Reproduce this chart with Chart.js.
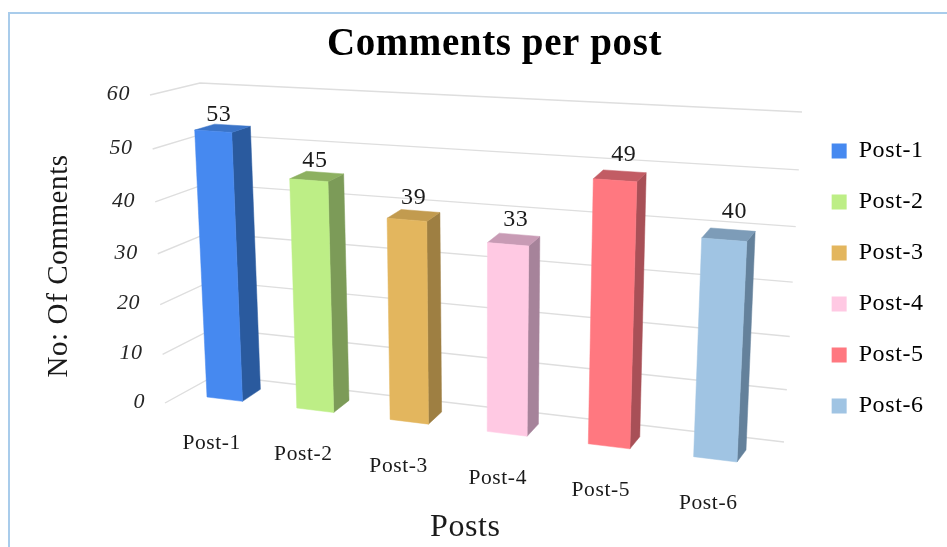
<!DOCTYPE html>
<html>
<head>
<meta charset="utf-8">
<style>html,body{margin:0;padding:0;background:#fff}canvas{display:block;filter:blur(0.4px)}</style>
<script src="https://cdn.jsdelivr.net/npm/chart.js@4"></script>
</head>
<body>
<canvas id="c" width="947" height="547"></canvas>
<script>
const categories = ['Post-1','Post-2','Post-3','Post-4','Post-5','Post-6'];
// Numbers printed above the bars in the reference
const printedValues = [53,45,39,33,49,40];
// Heights the bars reach in the reference (Post-4 stands taller than its printed 33)
const barLevels = [53,45,39,36,49,40];
const faceColors = ['#4689F0','#BDEE86','#E3B65E','#FFC9E3','#FF7880','#A0C4E3'];
const sideColors = ['#2A5A9E','#7C9B58','#9E7F42','#A6839A','#A85057','#64819B'];
const topColors = ['#3B74C8','#8DB060','#C29B4F','#C89BB5','#C25C64','#7D9CB8'];
const SERIF = '"Liberation Serif", serif';

function homography(src, dst){
  const A=[];
  for(let i=0;i<4;i++){
    const [x,y]=src[i],[X,Y]=dst[i];
    A.push([x,y,1,0,0,0,-x*X,-y*X,X]);
    A.push([0,0,0,x,y,1,-x*Y,-y*Y,Y]);
  }
  for(let c=0;c<8;c++){
    let p=c;
    for(let r=c+1;r<8;r++) if(Math.abs(A[r][c])>Math.abs(A[p][c])) p=r;
    [A[c],A[p]]=[A[p],A[c]];
    for(let r=0;r<8;r++){
      if(r===c) continue;
      const f=A[r][c]/A[c][c];
      for(let k=c;k<9;k++) A[r][k]-=f*A[c][k];
    }
  }
  const h=A.map((row,i)=>row[8]/row[i]);
  return (x,y)=>{
    const w=h[6]*x+h[7]*y+1;
    return [(h[0]*x+h[1]*y+h[2])/w,(h[3]*x+h[4]*y+h[5])/w];
  };
}
function poly(ctx,pts,fill){
  ctx.beginPath();
  pts.forEach((p,i)=>i?ctx.lineTo(p[0],p[1]):ctx.moveTo(p[0],p[1]));
  ctx.closePath();
  ctx.fillStyle=fill;
  ctx.fill();
  ctx.strokeStyle=fill;
  ctx.lineWidth=0.5;
  ctx.stroke();
}
const perspective = {
  id:'perspective',
  afterLayout(chart){
    const lg=chart.legend;
    lg.left-=17; lg.right-=17; lg.top+=5; lg.bottom+=5;
  },
  beforeDraw(chart){
    const ctx=chart.ctx;
    ctx.letterSpacing='0.6px';
    ctx.save();
    ctx.fillStyle='#A9CCEB';
    ctx.fillRect(8,12,939,2);
    ctx.fillRect(8,12,2,535);
    ctx.restore();
  },
  beforeDatasetsDraw(chart){
    const ctx=chart.ctx, xs=chart.scales.x, ys=chart.scales.y;
    const a=chart.chartArea;
    const y0=ys.getPixelForValue(0), y60=ys.getPixelForValue(60);
    const W=a.right-a.left;
    const xa=a.left+W*0.05, xb=a.left+W*0.95;
    const src=[[xa,y0],[xb,y0],[xb,y60],[xa,y60]];
    const front=homography(src,[[207,397],[737,462],[752,125],[193,93]]);
    const back=homography(src,[[226,385],[746,450],[760,116],[213,88]]);
    const wallSrc=[[a.left,y0],[a.right,y0],[a.right,y60],[a.left,y60]];
    const wall=homography(wallSrc,[[216,375],[784,442],[802,112],[200,83]]);
    const edgeBottom=wall(a.right,y0)[1], edgeTop=wall(a.right,y60)[1];

    ctx.save();
    ctx.strokeStyle='#DEDEDE';
    ctx.lineWidth=1.4;
    ctx.fillStyle='#262626';
    ctx.textBaseline='middle';
    ctx.textAlign='right';
    ctx.font='italic 22px '+SERIF;
    ys.ticks.forEach(t=>{
      const py=ys.getPixelForValue(t.value);
      const c=wall(a.left,py), r=wall(a.right,py);
      const k=(edgeBottom-r[1])/(edgeBottom-edgeTop);
      const f=[165-15*k,403-308*k];
      ctx.beginPath();
      ctx.moveTo(f[0],f[1]);ctx.lineTo(c[0],c[1]);ctx.lineTo(r[0],r[1]);
      ctx.stroke();
      ctx.fillText(String(t.value),f[0]-20,f[1]-1);
    });
    ctx.restore();

    const bars=chart.getDatasetMeta(0).data;
    ctx.save();
    bars.forEach((b,i)=>{
      const l=b.x-b.width/2, r=b.x+b.width/2;
      const fbl=front(l,b.base), fbr=front(r,b.base), ftl=front(l,b.y), ftr=front(r,b.y);
      const bbr=back(r,b.base), btl=back(l,b.y), btr=back(r,b.y);
      poly(ctx,[fbr,ftr,btr,bbr],sideColors[i]);
      poly(ctx,[ftl,ftr,btr,btl],topColors[i]);
      poly(ctx,[fbl,fbr,ftr,ftl],faceColors[i]);
      const t=i/(bars.length-1);
      const top=front(b.x,b.y), topB=back(b.x,b.y);
      const lx=(top[0]+topB[0])/2-4+10*t, ly=(top[1]+topB[1])/2-14-9*t;
      ctx.fillStyle='#1a1a1a';
      ctx.font='24px '+SERIF;
      ctx.textAlign='center';
      ctx.textBaseline='middle';
      ctx.fillText(String(printedValues[i]),lx,ly);
      const foot=front(b.x,b.base);
      ctx.font='21.5px '+SERIF;
      ctx.fillText(categories[i],foot[0]-13+6*t,foot[1]+44.5);
    });
    ctx.restore();
    return false;
  }
};
new Chart(document.getElementById('c'),{
  type:'bar',
  data:{labels:categories,datasets:[{label:'Comments',data:barLevels,backgroundColor:faceColors,barPercentage:0.4,categoryPercentage:1}]},
  plugins:[perspective],
  options:{
    responsive:false,animation:false,
    layout:{padding:{left:42,right:0,top:0,bottom:0}},
    plugins:{
      title:{display:true,text:'Comments per post',color:'#000',font:{family:SERIF,size:39,weight:'bold'},padding:{top:22,bottom:10}},
      legend:{position:'right',align:'center',labels:{
        boxWidth:15,boxHeight:15,padding:27,color:'#1a1a1a',font:{family:SERIF,size:24},
        generateLabels:()=>categories.map((c,i)=>({text:c,fillStyle:faceColors[i],strokeStyle:faceColors[i],lineWidth:0,index:i,hidden:false}))
      }},
      tooltip:{enabled:false}
    },
    scales:{
      x:{grid:{display:false},border:{display:false},ticks:{display:false},
        title:{display:true,text:'Posts',color:'#1a1a1a',font:{family:SERIF,size:32},padding:{top:0,bottom:0}},
        afterFit(s){s.height=94;}},
      y:{min:0,max:60,grid:{display:false},border:{display:false},ticks:{display:false,stepSize:10},
        title:{display:true,text:'No: Of Comments',color:'#1a1a1a',font:{family:SERIF,size:29},padding:{top:0,bottom:0}},
        afterFit(s){s.width=67;}}
    }
  }
});
</script>
</body>
</html>
